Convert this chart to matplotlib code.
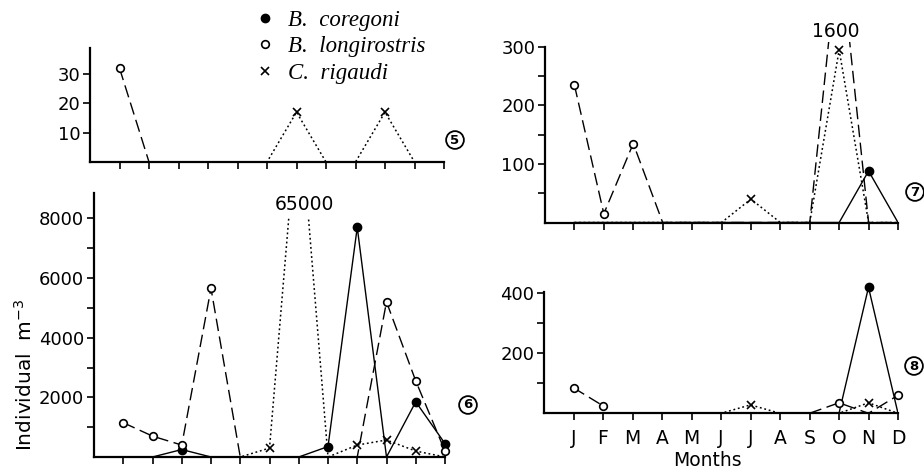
import matplotlib.pyplot as plt
import matplotlib.patches as mpatches
from matplotlib.lines import Line2D
import numpy as np

months = ['J', 'F', 'M', 'A', 'M', 'J', 'J', 'A', 'S', 'O', 'N', 'D']
nan = np.nan

# lake 5
p5_coregoni = [0, 0, 0, 0, 0, 0, 0, 0, 0, 0, 0, 0]
p5_longirostris = [32, 0, 0, 0, 0, 0, 0, 0, 0, 0, 0, 0]
p5_rigaudi = [0, 0, 0, 0, 0, 0, 17, 0, 0, 17, 0, 0]

# lake 6
p6_coregoni = [0, 0, 250, 0, 0, 0, 0, 350, 7700, 0, 1850, 450]
p6_longirostris = [1150, 700, 400, 5650, 0, 0, 0, 0, 0, 5200, 2550, 200]
p6_rigaudi = [0, 0, 0, 0, 0, 300, 65000, 0, 400, 570, 200, 0]

# lake 7
p7_coregoni = [0, 0, 0, 0, 0, 0, 0, 0, 0, 0, 88, 0]
p7_longirostris = [235, 15, 135, 0, 0, 0, 0, 0, 0, 1600, 0, 0]
p7_rigaudi = [0, 0, 0, 0, 0, 0, 40, 0, 0, 295, 0, 0]

# lake 8
p8_coregoni = [0, 0, 0, 0, 0, 0, 0, 0, 0, 0, 420, 0]
p8_longirostris = [85, 25, nan, nan, nan, nan, nan, nan, 0, 35, 0, 60]
p8_rigaudi = [0, 0, 0, 0, 0, 0, 28, 0, 0, 0, 35, 0]

W, H = 924, 468
fig = plt.figure(figsize=(W / 100, H / 100), dpi=100)
plt.rcParams['font.family'] = 'DejaVu Sans'

# styles for the three species
styles = [
    dict(ls='-', lw=1.0, marker='o', ms=6, mfc='black', mew=1.0),
    dict(ls=(0, (9, 4)), lw=1.0, marker='o', ms=5.5, mfc='white', mew=1.2),
    dict(ls=(0, (1.2, 1.8)), lw=1.1, marker='x', ms=6, mfc='black', mew=1.2),
]


def add_ax(left, right, top, bottom):
    return fig.add_axes([left / W, 1 - bottom / H, (right - left) / W, (bottom - top) / H])


def draw_panel(ax, series, ylim, cap=None, clip_top=None):
    x = np.arange(12)
    for vals, st in zip(series, styles):
        y = np.array(vals, dtype=float)
        y_draw = y if cap is None else np.minimum(y, cap)
        line, = ax.plot(x, y_draw, color='black', ls=st['ls'], lw=st['lw'], zorder=2)
        if clip_top is not None:
            rect = mpatches.Rectangle((-2, -ylim * 0.2), 15, clip_top + ylim * 0.2,
                                      transform=ax.transData)
            line.set_clip_path(rect)
        mask = (y > 0) & (y <= ylim)
        ax.plot(x[mask], y[mask], ls='none', marker=st['marker'], ms=st['ms'],
                mfc=st['mfc'], mec='black', mew=st['mew'], zorder=3, clip_on=False)
    ax.set_xlim(-1, 11)
    ax.set_ylim(0, ylim)
    ax.set_xticks(x)
    ax.set_xticklabels([])
    for s in ['top', 'right']:
        ax.spines[s].set_visible(False)
    for s in ['left', 'bottom']:
        ax.spines[s].set_linewidth(1.6)
        ax.spines[s].set_zorder(4)
    ax.tick_params(which='both', direction='out', length=5, width=1.2, labelsize=13, pad=2)
    ax.patch.set_visible(False)


# panel 5
ax5 = add_ax(90, 444, 47.6, 162)
draw_panel(ax5, [p5_coregoni, p5_longirostris, p5_rigaudi], 39)
ax5.set_yticks([10, 20, 30])

# panel 6
ax6 = add_ax(94, 445, 193, 457)
draw_panel(ax6, [p6_coregoni, p6_longirostris, p6_rigaudi], 8850, cap=12000, clip_top=8000)
ax6.set_yticks([2000, 4000, 6000, 8000])
ax6.set_yticks([1000, 3000, 5000, 7000], minor=True)
pk = int(np.argmax(p6_rigaudi))
ax6.text(pk + 0.2, 8450, f'{max(p6_rigaudi)}', ha='center', va='center', fontsize=13.5)

# panel 7
ax7 = add_ax(545, 898, 42.3, 222.5)
draw_panel(ax7, [p7_coregoni, p7_longirostris, p7_rigaudi], 308, cap=480)
ax7.spines['left'].set_bounds(0, 300)
ax7.set_yticks([100, 200, 300])
ax7.set_yticks([50, 150, 250], minor=True)
pk = int(np.argmax(p7_longirostris))
ax7.text(pk - 0.1, 326, f'{max(p7_longirostris)}', ha='center', va='center', fontsize=13.5)

# panel 8
ax8 = add_ax(544, 898, 284.3, 413.3)
draw_panel(ax8, [p8_coregoni, p8_longirostris, p8_rigaudi], 430)
ax8.spines['left'].set_bounds(0, 405)
ax8.set_yticks([200, 400])
ax8.set_yticks([100, 300], minor=True)
ax8.set_xticklabels(months, fontsize=13.5)
ax8.tick_params(axis='x', pad=6)

fig.text(707 / W, 1 - 460 / H, 'Months', ha='center', va='center', fontsize=13.5)
fig.text(25 / W, 1 - 375 / H, 'Individual  m$^{-3}$', rotation=90,
         ha='center', va='center', fontsize=14.5)

# circled lake numbers
for num, (cx, cy) in zip(['5', '6', '7', '8'],
                         [(455, 140), (468, 405), (915, 192), (914, 366)]):
    fig.text(cx / W, 1 - cy / H, num, ha='center', va='center', fontsize=9.5,
             fontweight='bold',
             bbox=dict(boxstyle='circle,pad=0.18', fc='white', ec='black', lw=1.3))

# legend
handles = [Line2D([], [], ls='none', marker=st['marker'], ms=st['ms'], mfc=st['mfc'],
                  mec='black', mew=st['mew']) for st in styles]
labels = ['B.  coregoni', 'B.  longirostris', 'C.  rigaudi']
fig.legend(handles, labels, loc='upper left', bbox_to_anchor=(253.5 / W, 1 - 10 / H),
           frameon=False, borderaxespad=0, borderpad=0, handlelength=1.0,
           handletextpad=0.5, labelspacing=0.23,
           prop={'family': 'Liberation Serif', 'style': 'italic', 'size': 16.5})

fig.savefig('out.png', dpi=100)
